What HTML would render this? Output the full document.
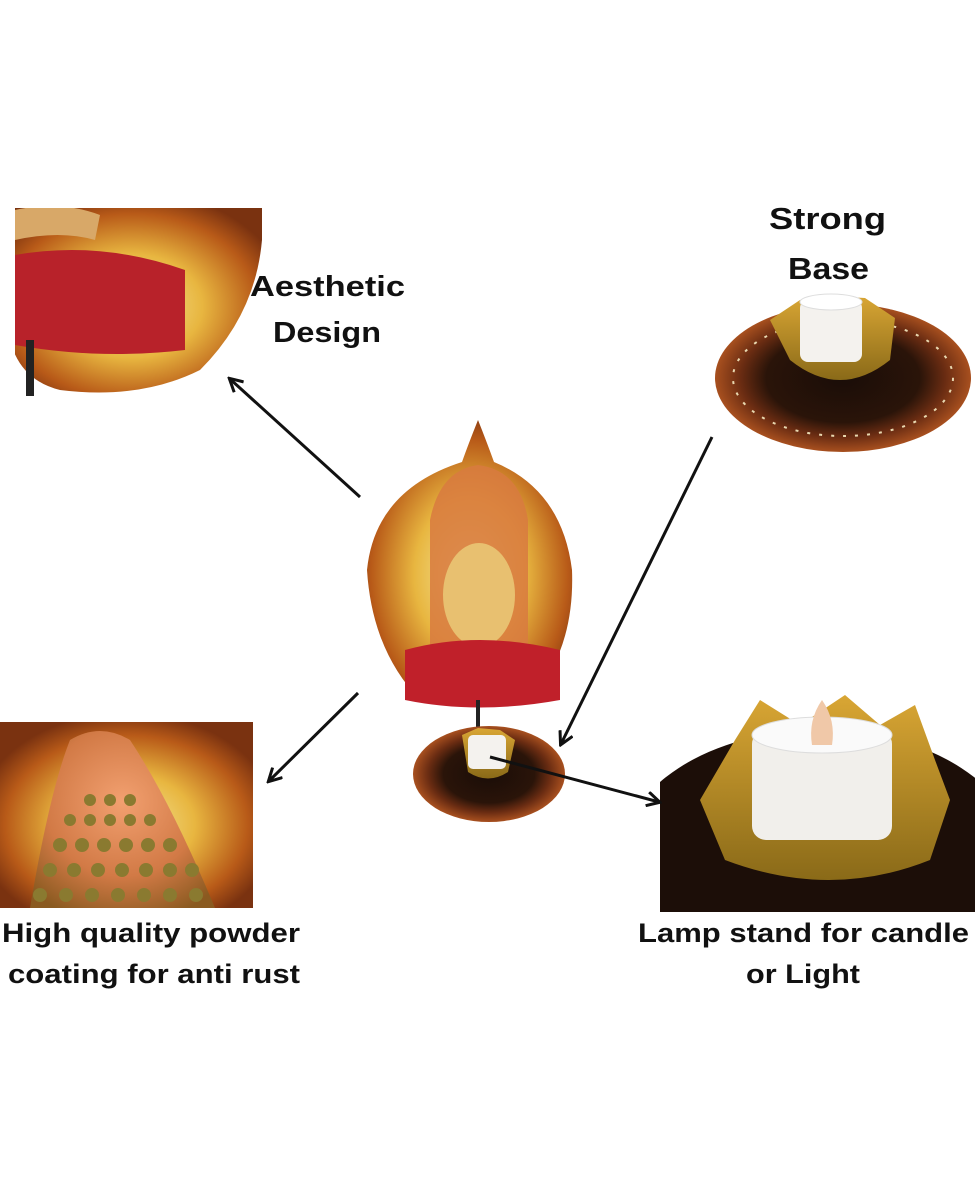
<!DOCTYPE html>
<html><head><meta charset="utf-8"><style>
html,body{margin:0;padding:0;background:#fff;}
svg{display:block}
text{font-family:"Liberation Sans",sans-serif;font-weight:bold;fill:#111;}
</style></head><body>
<svg width="975" height="1185" viewBox="0 0 975 1185" xmlns="http://www.w3.org/2000/svg">
<defs>
<radialGradient id="leaf" cx="50%" cy="55%" r="60%">
<stop offset="0" stop-color="#f4e9a0"/><stop offset="0.45" stop-color="#e8b640"/><stop offset="0.8" stop-color="#b85a18"/><stop offset="1" stop-color="#7a3210"/>
</radialGradient>
<radialGradient id="cop" cx="50%" cy="40%" r="70%">
<stop offset="0" stop-color="#f2a070"/><stop offset="0.6" stop-color="#d27a46"/><stop offset="1" stop-color="#8a5a20"/>
</radialGradient>
<radialGradient id="base" cx="50%" cy="50%" r="50%">
<stop offset="0" stop-color="#1a0d08"/><stop offset="0.6" stop-color="#2a1409"/><stop offset="0.8" stop-color="#6a2c12"/><stop offset="1" stop-color="#a8501f"/>
</radialGradient>
<linearGradient id="gold" x1="0" y1="0" x2="0" y2="1"><stop offset="0" stop-color="#d9a634"/><stop offset="1" stop-color="#8a6a18"/></linearGradient>
<clipPath id="c1"><rect x="15" y="208" width="247" height="188"/></clipPath>
<clipPath id="c2"><rect x="0" y="722" width="253" height="186"/></clipPath>
<clipPath id="c3"><rect x="660" y="690" width="315" height="222"/></clipPath>
<marker id="ah" markerWidth="16" markerHeight="16" refX="13" refY="8" orient="auto" markerUnits="userSpaceOnUse"><path d="M1,1 L14,8 L1,15" fill="none" stroke="#111" stroke-width="3"/></marker>
</defs>

<g clip-path="url(#c1)">
<path d="M0,200 L262,200 Q270,300 200,370 Q140,400 60,390 Q20,380 10,340 Z" fill="url(#leaf)"/>
<path d="M15,255 Q100,240 185,270 L185,350 Q100,360 15,345 Z" fill="#b8222a"/>
<rect x="26" y="340" width="8" height="60" fill="#222"/>
<path d="M15,210 Q60,200 100,215 L95,240 Q60,230 15,240Z" fill="#d8a868"/>
</g>
<text x="250" y="296" font-size="29" textLength="155" lengthAdjust="spacingAndGlyphs">Aesthetic</text>
<text x="273" y="342" font-size="29" textLength="108" lengthAdjust="spacingAndGlyphs">Design</text>

<text x="769" y="229" font-size="31" textLength="117" lengthAdjust="spacingAndGlyphs">Strong</text>
<text x="788" y="279" font-size="31" textLength="81" lengthAdjust="spacingAndGlyphs">Base</text>

<ellipse cx="843" cy="378" rx="128" ry="74" fill="url(#base)"/>
<ellipse cx="843" cy="378" rx="110" ry="58" fill="none" stroke="#e8d8b0" stroke-width="2" stroke-dasharray="3 9"/>
<path d="M770,320 L800,300 L830,296 L865,298 L895,318 L890,360 Q840,400 790,360 Z" fill="url(#gold)"/>
<rect x="800" y="300" width="62" height="62" rx="8" fill="#f4f2ee"/>
<ellipse cx="831" cy="302" rx="31" ry="8" fill="#fff" stroke="#ddd"/>

<path d="M478,420 Q468,445 462,462 Q375,490 367,570 Q372,650 420,700 L530,700 Q575,650 572,570 Q562,490 494,462 Q486,440 478,420 Z" fill="url(#leaf)"/>
<path d="M430,520 Q440,470 478,465 Q520,470 528,520 L528,650 L430,650 Z" fill="#d87a40" opacity="0.85"/>
<ellipse cx="479" cy="595" rx="36" ry="52" fill="#e8c070"/>
<path d="M405,650 Q478,630 560,650 L560,700 Q478,715 405,700 Z" fill="#c0202a"/>
<rect x="476" y="700" width="4" height="35" fill="#222"/>
<ellipse cx="489" cy="774" rx="76" ry="48" fill="url(#base)"/>
<path d="M462,735 L478,728 L500,730 L515,740 L508,772 Q488,785 468,772 Z" fill="url(#gold)"/>
<rect x="468" y="735" width="38" height="34" rx="5" fill="#f4f2ee"/>

<g clip-path="url(#c2)">
<path d="M0,722 L253,722 L253,908 L0,908Z" fill="url(#leaf)"/>
<path d="M30,908 Q50,790 70,740 Q100,722 130,740 Q170,800 215,908 Z" fill="url(#cop)"/>
<g fill="#8a7a30">
<circle cx="90" cy="800" r="6"/><circle cx="110" cy="800" r="6"/><circle cx="130" cy="800" r="6"/><circle cx="70" cy="820" r="6"/><circle cx="90" cy="820" r="6"/><circle cx="110" cy="820" r="6"/><circle cx="130" cy="820" r="6"/><circle cx="150" cy="820" r="6"/><circle cx="60" cy="845" r="7"/><circle cx="82" cy="845" r="7"/><circle cx="104" cy="845" r="7"/><circle cx="126" cy="845" r="7"/><circle cx="148" cy="845" r="7"/><circle cx="170" cy="845" r="7"/><circle cx="50" cy="870" r="7"/><circle cx="74" cy="870" r="7"/><circle cx="98" cy="870" r="7"/><circle cx="122" cy="870" r="7"/><circle cx="146" cy="870" r="7"/><circle cx="170" cy="870" r="7"/><circle cx="192" cy="870" r="7"/><circle cx="40" cy="895" r="7"/><circle cx="66" cy="895" r="7"/><circle cx="92" cy="895" r="7"/><circle cx="118" cy="895" r="7"/><circle cx="144" cy="895" r="7"/><circle cx="170" cy="895" r="7"/><circle cx="196" cy="895" r="7"/>
</g>
</g>
<text x="2" y="942" font-size="27" textLength="298" lengthAdjust="spacingAndGlyphs">High quality powder</text>
<text x="8" y="983" font-size="27" textLength="292" lengthAdjust="spacingAndGlyphs">coating for anti rust</text>

<g clip-path="url(#c3)">
<rect x="660" y="690" width="315" height="222" fill="#fff"/>
<ellipse cx="820" cy="860" rx="200" ry="130" fill="#1c0e08"/>
<path d="M735,740 L760,700 L800,725 L845,695 L880,725 L915,705 L935,760 L950,800 L930,860 Q830,900 725,860 L700,800 Z" fill="url(#gold)"/>
<rect x="752" y="730" width="140" height="110" rx="14" fill="#f1efeb"/>
<ellipse cx="822" cy="735" rx="70" ry="18" fill="#fafafa" stroke="#ddd"/>
<path d="M812,745 Q808,720 822,700 Q836,720 832,745 Z" fill="#f0c8a8"/>
</g>
<text x="638" y="942" font-size="27" textLength="331" lengthAdjust="spacingAndGlyphs">Lamp stand for candle</text>
<text x="746" y="983" font-size="27" textLength="114" lengthAdjust="spacingAndGlyphs">or Light</text>

<g stroke="#111" stroke-width="3" fill="none">
<line x1="360" y1="497" x2="230" y2="379" marker-end="url(#ah)"/>
<line x1="712" y1="437" x2="561" y2="744" marker-end="url(#ah)"/>
<line x1="358" y1="693" x2="269" y2="781" marker-end="url(#ah)"/>
<line x1="490" y1="757" x2="659" y2="802" marker-end="url(#ah)"/>
</g>
</svg>
</body></html>
